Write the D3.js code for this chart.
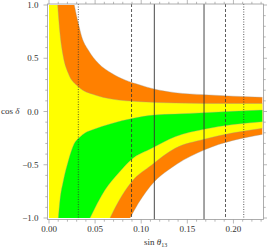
<!DOCTYPE html>
<html><head><meta charset="utf-8">
<script src="https://cdn.jsdelivr.net/npm/d3@7"></script>
<style>body{margin:0;background:#fff;} svg{display:block;}</style>
</head><body>
<svg id="c" width="267" height="248"></svg>
<script>
// ---- data ----
const xTicks = [0, 0.05, 0.10, 0.15, 0.20];
const xTickLabels = ["0.00", "0.05", "0.10", "0.15", "0.20"];
const yTicks = [-1, -0.5, 0, 0.5, 1];
const yTickLabels = ["\u22121.0", "\u22120.5", "0.0", "0.5", "1.0"];
const sMax = 0.2313;

// boundary curves as [sin θ13, cos δ]
const orangeUpper = [[0.0274,1.0],[0.0318,0.828],[0.0355,0.702],[0.0426,0.577],[0.0535,0.453],[0.0680,0.359],[0.0824,0.296],[0.0987,0.249],[0.1139,0.211],[0.1367,0.177],[0.1681,0.158],[0.2313,0.133]];
const yellowUpper = [[0.0094,1.0],[0.0119,0.734],[0.0155,0.515],[0.0209,0.359],[0.0318,0.233],[0.0499,0.155],[0.0680,0.117],[0.0987,0.092],[0.1367,0.080],[0.1681,0.076],[0.2313,0.075]];
const greenUpper = [[0.0101,-1.0],[0.0119,-0.831],[0.0155,-0.653],[0.0209,-0.465],[0.0271,-0.305],[0.0336,-0.239],[0.0390,-0.202],[0.0480,-0.169],[0.0662,-0.117],[0.0911,-0.064],[0.1139,-0.033],[0.1367,-0.024],[0.1681,-0.011],[0.2313,0.014]];
const greenLower = [[0.0445,-1.0],[0.0607,-0.737],[0.0752,-0.580],[0.0897,-0.449],[0.1114,-0.346],[0.1367,-0.237],[0.1681,-0.167],[0.2313,-0.096]];
const yellowLower = [[0.0662,-1.0],[0.0752,-0.847],[0.0897,-0.659],[0.1114,-0.502],[0.1367,-0.346],[0.1681,-0.261],[0.2313,-0.158]];
const orangeLower = [[0.0879,-1.0],[0.0969,-0.862],[0.1142,-0.659],[0.1294,-0.549],[0.1388,-0.493],[0.1681,-0.362],[0.2313,-0.215]];

const vLineValues = [0.0318, 0.0895, 0.1142, 0.1681, 0.1914, 0.2112];
const vLineStyles = ["dot", "dash", "solid", "solid", "dash", "dot"];

// ---- drawing ----
const svg = d3.select("#c");
const x = d3.scaleLinear([0, sMax], [49, 262.3]);
const y = d3.scaleLinear([-1, 1], [218, 5]);
const frame = {l: 47.5, r: 263.5, t: 4, b: 219.5};
const font = "'Liberation Serif','Times New Roman',serif";

const line = d3.line().x(d => x(d[0])).y(d => y(d[1])).curve(d3.curveMonotoneX);
const cont = pts => line(pts).replace(/^M/, "L");
const pt = p => "L" + x(p[0]) + "," + y(p[1]);
const rev = a => a.slice().reverse();

const g = svg.append("g");
// orange: everything inside outer boundaries
g.append("path").attr("fill", "#FF8000")
  .attr("d", "M" + x(0) + "," + y(1) + cont(orangeUpper) + cont(rev(orangeLower)) + pt([0, -1]) + "Z");
// yellow
g.append("path").attr("fill", "#FFFF00")
  .attr("d", "M" + x(0) + "," + y(1) + cont(yellowUpper) + cont(rev(yellowLower)) + pt([0, -1]) + "Z");
// green
g.append("path").attr("fill", "#00FF00")
  .attr("d", line(greenUpper) + cont(rev(greenLower)) + "Z");

// boundary strokes
[orangeUpper, yellowUpper, greenUpper, greenLower, yellowLower, orangeLower].forEach(c => {
  g.append("path").attr("d", line(c)).attr("fill", "none")
    .attr("stroke", "#999").attr("stroke-opacity", 0.6).attr("stroke-width", 0.6);
});

// vertical lines
vLineValues.forEach((v, i) => {
  const st = vLineStyles[i];
  svg.append("line")
    .attr("x1", x(v)).attr("x2", x(v)).attr("y1", frame.t).attr("y2", frame.b)
    .attr("stroke", "#333").attr("stroke-width", st === "solid" ? 0.9 : 0.8)
    .attr("stroke-dasharray", st === "dot" ? "1,1.5" : st === "dash" ? "3,2" : null);
});

// frame
svg.append("rect").attr("x", frame.l).attr("y", frame.t)
  .attr("width", frame.r - frame.l).attr("height", frame.b - frame.t)
  .attr("fill", "none").attr("stroke", "#999").attr("stroke-width", 0.8);

// ticks (outward)
const minorX = d3.range(0, 0.2305, 0.01);
const minorY = d3.range(-1, 1.0001, 0.1);
const tk = svg.append("g").attr("stroke", "#999").attr("stroke-width", 0.7);
minorX.forEach(v => {
  const major = xTicks.some(t => Math.abs(t - v) < 1e-6);
  const L = major ? 4 : 2.2;
  tk.append("line").attr("x1", x(v)).attr("x2", x(v)).attr("y1", frame.b).attr("y2", frame.b + L);
  tk.append("line").attr("x1", x(v)).attr("x2", x(v)).attr("y1", frame.t).attr("y2", frame.t - L);
});
minorY.forEach(v => {
  const major = yTicks.some(t => Math.abs(t - v) < 1e-6);
  const L = major ? 4 : 2.2;
  tk.append("line").attr("x1", frame.l).attr("x2", frame.l - L).attr("y1", y(v)).attr("y2", y(v));
  tk.append("line").attr("x1", frame.r).attr("x2", frame.r + L).attr("y1", y(v)).attr("y2", y(v));
});

// tick labels
xTicks.forEach((v, i) => {
  svg.append("text").attr("x", x(v)).attr("y", 232).attr("text-anchor", "middle")
    .attr("font-family", font).attr("font-size", 9).attr("fill", "#333").text(xTickLabels[i]);
});
yTicks.forEach((v, i) => {
  svg.append("text").attr("x", 38.5).attr("y", y(v) + 3).attr("text-anchor", "end")
    .attr("font-family", font).attr("font-size", 9).attr("fill", "#333").text(yTickLabels[i]);
});

// axis labels
const yl = svg.append("text").attr("x", 19.5).attr("y", 114).attr("text-anchor", "end")
  .attr("font-family", font).attr("font-size", 9).attr("fill", "#333");
yl.append("tspan").text("cos ");
yl.append("tspan").attr("font-style", "italic").text("\u03B4");

const xl = svg.append("text").attr("x", 155.6).attr("y", 245).attr("text-anchor", "middle")
  .attr("font-family", font).attr("font-size", 9).attr("fill", "#333");
xl.append("tspan").text("sin ");
xl.append("tspan").attr("font-style", "italic").text("\u03B8");
xl.append("tspan").attr("font-size", 6).attr("dy", 2).text("13");
</script>
</body></html>
